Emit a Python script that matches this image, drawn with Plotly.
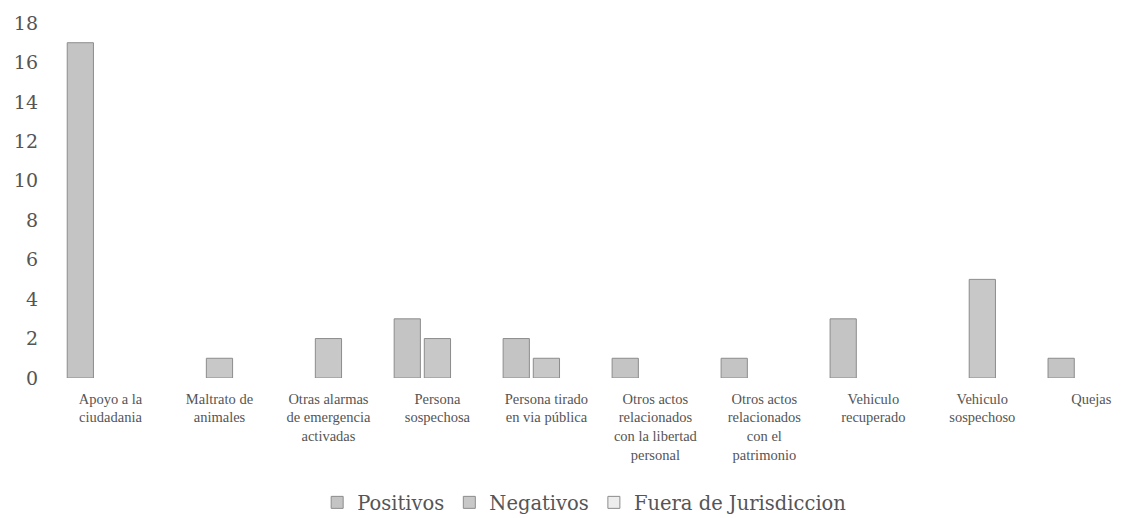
import plotly.graph_objects as go

categories = [
    "Apoyo a la<br>ciudadania",
    "Maltrato de<br>animales",
    "Otras alarmas<br>de emergencia<br>activadas",
    "Persona<br>sospechosa",
    "Persona tirado<br>en via pública",
    "Otros actos<br>relacionados<br>con la libertad<br>personal",
    "Otros actos<br>relacionados<br>con el<br>patrimonio",
    "Vehiculo<br>recuperado",
    "Vehiculo<br>sospechoso",
    "Quejas",
]
positivos = [17, None, None, 3, 2, 1, 1, 3, None, 1]
negativos = [None, 1, 2, 2, 1, None, None, None, 5, None]
fuera = [None, None, None, None, None, None, None, None, None, None]
y_ticks = [0, 2, 4, 6, 8, 10, 12, 14, 16, 18]

series = [
    ("Positivos", positivos, "#c4c4c4"),
    ("Negativos", negativos, "#c8c8c8"),
    ("Fuera de Jurisdiccion", fuera, "#ededed"),
]

fig = go.Figure()
for name, vals, col in series:
    fig.add_trace(go.Bar(
        x=categories, y=vals, name=name,
        marker=dict(color=col, line=dict(color="#8c8c8c", width=1)),
    ))

fig.update_layout(
    width=1124, height=518,
    paper_bgcolor="white", plot_bgcolor="white",
    margin=dict(l=48, r=8, t=15, b=148),
    barmode="group", bargap=0.17, bargroupgap=0.13,
    font=dict(family="DejaVu Serif", color="#555555"),
    legend=dict(orientation="h", x=0.495, xanchor="center",
                yref="container", y=0.045, yanchor="middle",
                font=dict(size=19.5, color="#555555"), itemwidth=30),
)
fig.update_xaxes(range=[-0.5, 9.3], showline=False, showgrid=False, ticks="",
                 automargin=False, ticklabelstandoff=10,
                 tickfont=dict(family="Liberation Serif", size=14.5, color="#555555"),
                 tickangle=0)
fig.update_yaxes(range=[0, 18], tickvals=y_ticks, showgrid=False, showline=False,
                 zeroline=False, ticks="", automargin=False, ticklabelstandoff=17,
                 tickfont=dict(family="DejaVu Serif", size=19, color="#555555"))

fig.write_html("out.html")
